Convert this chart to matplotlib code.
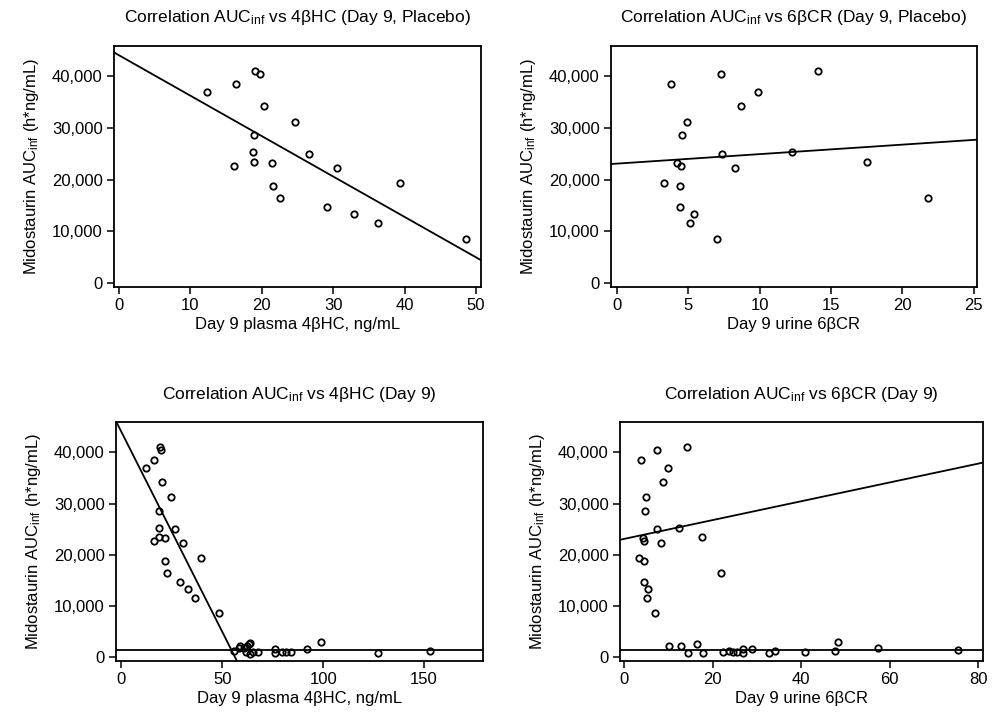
import numpy as np
import matplotlib
matplotlib.use('Agg')
import matplotlib.pyplot as plt
from matplotlib.ticker import FuncFormatter

plt.rcParams['font.family'] = ['Liberation Sans', 'DejaVu Sans']
plt.rcParams['mathtext.default'] = 'regular'

# placebo subjects, midostaurin AUCinf (h*ng/mL)
placebo_auc = [41100, 40400, 38600, 36900, 34200, 31200, 28600, 25300, 25000, 23500,
               23200, 22700, 22300, 19300, 18800, 16500, 14600, 13300, 11500, 8500]
placebo_hc = [19.1, 19.8, 16.4, 12.4, 20.3, 24.7, 18.9, 18.8, 26.6, 18.9,
              21.5, 16.1, 30.5, 39.3, 21.6, 22.6, 29.2, 32.9, 36.3, 48.6]
placebo_cr = [14.1, 7.3, 3.8, 9.9, 8.7, 4.9, 4.6, 12.3, 7.4, 17.5,
              4.2, 4.5, 8.3, 3.3, 4.4, 21.8, 4.4, 5.4, 5.1, 7.0]

# treated subjects (low AUC cluster)
treated_hc = [56.1, 58.4, 58.8, 60.7, 62.1, 63.1, 63.6, 61.6, 64.0, 65.4,
              67.5, 76.4, 76.4, 79.4, 81.5, 84.3, 91.8, 98.7, 127.4, 152.7]
treated_hc_auc = [1170, 1820, 2080, 1820, 2210, 2470, 2730, 980, 650, 980,
                  980, 1560, 780, 980, 980, 980, 1560, 2930, 720, 1170]
treated_cr = [10.1, 12.7, 14.4, 16.4, 17.7, 22.3, 23.7, 24.5, 25.4, 26.8,
              26.9, 28.9, 32.7, 34.0, 40.8, 47.6, 48.3, 57.3, 75.3]
treated_cr_auc = [2090, 2210, 840, 2480, 720, 1040, 1170, 1040, 1040, 1630,
                  780, 1570, 840, 1230, 920, 1170, 2940, 1820, 1370]

# regression lines (intercept, slope)
fit_placebo_hc = (44100, -783)
fit_placebo_cr = (23100, 184)
fit_treated_hc = (1400, 0)
fit_treated_cr = (1350, 0)

auc_sub = 'AUC$_{inf}$'
title_hc = 'Correlation ' + auc_sub + ' vs 4\u03b2HC (Day 9'
title_cr = 'Correlation ' + auc_sub + ' vs 6\u03b2CR (Day 9'
xlabel_hc = 'Day 9 plasma 4\u03b2HC, ng/mL'
xlabel_cr = 'Day 9 urine 6\u03b2CR'
ylabel = 'Midostaurin ' + auc_sub + ' (h*ng/mL)'


def setup(ax, title, xlabel, xticks, xlim):
    ax.set_title(title, fontsize=12.5, pad=17)
    ax.set_xlabel(xlabel, fontsize=12, labelpad=3)
    ax.set_ylabel(ylabel, fontsize=12, labelpad=8)
    ax.set_xticks(xticks)
    ax.set_xlim(xlim)
    ax.set_yticks([0, 10000, 20000, 30000, 40000])
    ax.yaxis.set_major_formatter(FuncFormatter(lambda v, p: f'{int(v):,}'))
    ax.set_ylim(-800, 45900)
    ax.tick_params(labelsize=12, length=5, width=1.1, pad=3)
    for s in ax.spines.values():
        s.set_linewidth(1.3)


def points(ax, x, y):
    ax.plot(x, y, 'o', mfc='none', mec='black', ms=4.6, mew=1.3)


def fitline(ax, fit):
    ax.axline((0, fit[0]), slope=fit[1], color='black', lw=1.3)


fig = plt.figure(figsize=(9.98, 7.16), dpi=100)
ax1 = fig.add_axes([0.1142, 0.5992, 0.3677, 0.3366])
ax2 = fig.add_axes([0.6122, 0.5992, 0.3664, 0.3366])
ax3 = fig.add_axes([0.1162, 0.0768, 0.3674, 0.3334])
ax4 = fig.add_axes([0.6212, 0.0768, 0.3640, 0.3334])

setup(ax1, title_hc + ', Placebo)', xlabel_hc, [0, 10, 20, 30, 40, 50], (-0.7, 50.7))
points(ax1, placebo_hc, placebo_auc)
fitline(ax1, fit_placebo_hc)

setup(ax2, title_cr + ', Placebo)', xlabel_cr, [0, 5, 10, 15, 20, 25], (-0.4, 25.2))
points(ax2, placebo_cr, placebo_auc)
fitline(ax2, fit_placebo_cr)

setup(ax3, title_hc + ')', xlabel_hc, [0, 50, 100, 150], (-2.6, 179))
points(ax3, placebo_hc, placebo_auc)
points(ax3, treated_hc, treated_hc_auc)
fitline(ax3, fit_placebo_hc)
fitline(ax3, fit_treated_hc)

setup(ax4, title_cr + ')', xlabel_cr, [0, 20, 40, 60, 80], (-1.0, 81.1))
points(ax4, placebo_cr, placebo_auc)
points(ax4, treated_cr, treated_cr_auc)
fitline(ax4, fit_placebo_cr)
fitline(ax4, fit_treated_cr)

fig.savefig('out.png', dpi=100)
